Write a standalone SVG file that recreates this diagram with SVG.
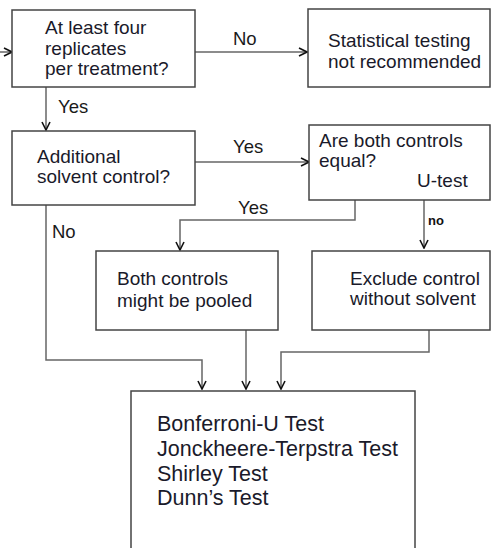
<svg xmlns="http://www.w3.org/2000/svg" width="492" height="548" viewBox="0 0 492 548">
<defs>
<marker id="arr" viewBox="0 0 10 10" refX="9" refY="5" markerWidth="10" markerHeight="10" markerUnits="userSpaceOnUse" orient="auto">
<path d="M1,1 L9,5 L1,9" fill="none" stroke="#111" stroke-width="1.6"/>
</marker>
<style>
.box{fill:#fff;stroke:#444;stroke-width:1.5}
.t{font-family:"Liberation Sans",Arial,sans-serif;font-size:19px;fill:#1a1a2a}
.big{font-size:21.5px}
.lbl{font-family:"Liberation Sans",Arial,sans-serif;font-size:18.5px;fill:#1a1a1a}
.bold{font-family:"Liberation Sans",Arial,sans-serif;font-size:13px;font-weight:bold;fill:#111}
.c{fill:none;stroke:#666;stroke-width:1.5}
.a{marker-end:url(#arr)}
</style>
</defs>
<rect width="492" height="548" fill="#fff"/>
<g id="connectors">
<line class="c a" x1="0" y1="52" x2="12" y2="52"/>
<line class="c a" x1="195" y1="52" x2="307" y2="52"/>
<line class="c a" x1="46" y1="87" x2="46" y2="130"/>
<line class="c a" x1="195" y1="162" x2="309" y2="162"/>
<polyline class="c a" points="355,200 355,220 180,220 180,250"/>
<line class="c a" x1="424" y1="200" x2="424" y2="248"/>
<polyline class="c a" points="46,205 46,360 202,360 202,389"/>
<line class="c a" x1="246" y1="330" x2="246" y2="389"/>
<polyline class="c a" points="429,330 429,352 281,352 281,389"/>
<text class="lbl" x="233" y="45">No</text>
<text class="lbl" x="58" y="113">Yes</text>
<text class="lbl" x="233" y="153">Yes</text>
<text class="lbl" x="238" y="214">Yes</text>
<text class="lbl" x="52" y="238">No</text>
<text class="bold" x="428" y="225">no</text>
</g>
<g id="n1">
<rect class="box" x="12" y="10" width="183" height="77"/>
<text class="t" x="45" y="34">At least four</text>
<text class="t" x="45" y="54.5">replicates</text>
<text class="t" x="45" y="75">per treatment?</text>
</g>
<g id="n2">
<rect class="box" x="308" y="9" width="182" height="78"/>
<text class="t" x="328" y="47">Statistical testing</text>
<text class="t" x="328" y="68">not recommended</text>
</g>
<g id="n3">
<rect class="box" x="12" y="131" width="183" height="74"/>
<text class="t" x="37" y="163">Additional</text>
<text class="t" x="37" y="183">solvent control?</text>
</g>
<g id="n4">
<rect class="box" x="309" y="125" width="181" height="75"/>
<text class="t" x="319" y="147">Are both controls</text>
<text class="t" x="319" y="167">equal?</text>
<text class="t" x="417" y="187">U-test</text>
</g>
<g id="n5">
<rect class="box" x="96" y="251" width="182" height="79"/>
<text class="t" x="117" y="285">Both controls</text>
<text class="t" x="117" y="307">might be pooled</text>
</g>
<g id="n6">
<rect class="box" x="312" y="251" width="178" height="79"/>
<text class="t" x="350" y="285">Exclude control</text>
<text class="t" x="350" y="305">without solvent</text>
</g>
<g id="n7">
<rect class="box" x="131" y="391" width="284" height="170"/>
<text class="t big" x="157" y="431">Bonferroni-U Test</text>
<text class="t big" x="157" y="456">Jonckheere-Terpstra Test</text>
<text class="t big" x="157" y="481">Shirley Test</text>
<text class="t big" x="157" y="505">Dunn’s Test</text>
</g>
</svg>
